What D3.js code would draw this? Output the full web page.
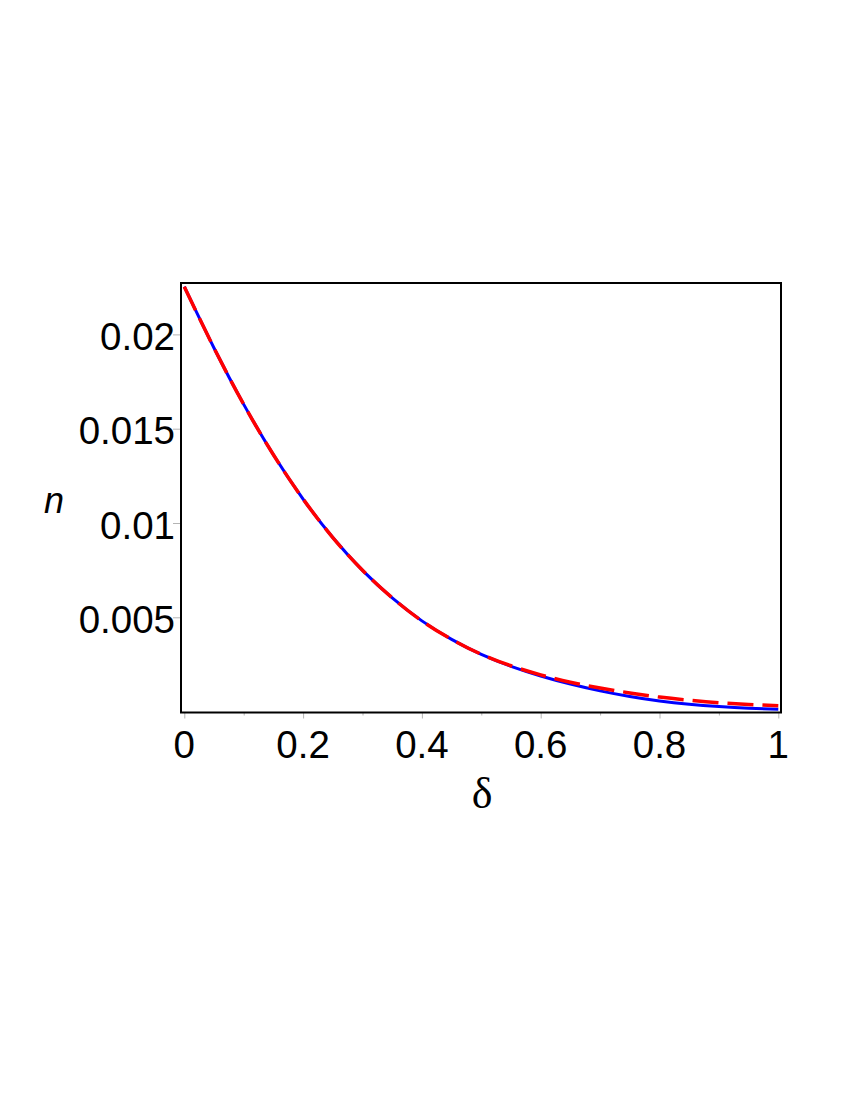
<!DOCTYPE html>
<meta charset='utf-8'>
<script src='https://d3js.org/d3.v7.min.js'></script>
<style>
  body { margin: 0; background: #fff; }
</style>
<body>
<script>
// values
var delta = [0, 0.05, 0.1, 0.15, 0.2, 0.25, 0.3, 0.35, 0.4, 0.45, 0.5,
             0.55, 0.6, 0.65, 0.7, 0.75, 0.8, 0.85, 0.9, 0.95, 1];
var nSolid = [0.02253, 0.01928, 0.01629, 0.01362, 0.01127, 0.00923, 0.00749, 0.00603, 0.00481, 0.00383, 0.00303,
              0.00240, 0.00189, 0.00146, 0.00110, 0.00080, 0.00056, 0.00039, 0.00027, 0.00018, 0.00012];
var nDashed = [0.02253, 0.01928, 0.01629, 0.01362, 0.01127, 0.00923, 0.00749, 0.00603, 0.00481, 0.00383, 0.00304,
               0.00243, 0.00195, 0.00156, 0.00125, 0.00099, 0.00077, 0.00060, 0.00047, 0.00038, 0.00031];
var xTicks = [0, 0.2, 0.4, 0.6, 0.8, 1];
var xMinor = [0.1, 0.3, 0.5, 0.7, 0.9];
var yTicks = [0.005, 0.01, 0.015, 0.02];
var yTickLabels = ['0.005', '0.01', '0.015', '0.02'];

var width = 850,
    height = 1100;
var sans = "'Liberation Sans', Arial, sans-serif";

var svg = d3.select('body').append('svg').attr('width', width).attr('height', height);

var frame = {left: 181, right: 781, top: 283, bottom: 712.5};

var x = d3.scaleLinear().domain([0, 1]).range([184.3, 778.3]);
var y = d3.scaleLinear().domain([0, 0.02]).range([711.6, 334.4]);

// ticks (grey, outside the frame)
var gx = svg.append('g').attr('transform', 'translate(0,' + frame.bottom + ')');
gx.call(d3.axisBottom(x).tickValues(xTicks).tickSize(6).tickFormat(''));
gx.append('g').call(d3.axisBottom(x).tickValues(xMinor).tickSize(3).tickFormat(''));
gx.selectAll('path.domain').remove();
gx.selectAll('line').attr('stroke', '#b4b4b4');

var gy = svg.append('g').attr('transform', 'translate(' + frame.left + ',0)');
gy.call(d3.axisLeft(y).tickValues(yTicks).tickSize(8).tickFormat(''));
gy.selectAll('path.domain').remove();
gy.selectAll('line').attr('stroke', '#b4b4b4');

// tick labels
svg.append('g').selectAll('text').data(xTicks).enter().append('text')
    .attr('x', function(d) { return x(d); })
    .attr('y', 758)
    .attr('text-anchor', 'middle')
    .style('font-family', sans).style('font-size', '38.5px')
    .text(function(d) { return d3.format('~g')(d); });

svg.append('g').selectAll('text').data(yTicks).enter().append('text')
    .attr('x', 175)
    .attr('y', function(d) { return y(d) + 15.5; })
    .attr('text-anchor', 'end')
    .style('font-family', sans).style('font-size', '38.5px')
    .text(function(d, i) { return yTickLabels[i]; });

// axis titles
svg.append('text').attr('x', 482).attr('y', 808).attr('text-anchor', 'middle')
    .style('font-family', "'Liberation Serif', 'Times New Roman', serif").style('font-size', '44px')
    .text('δ');
svg.append('text').attr('x', 44).attr('y', 513)
    .style('font-family', sans).style('font-style', 'italic').style('font-size', '36px')
    .text('n');

// curves
var line = d3.line()
    .x(function(d) { return x(d[0]); })
    .y(function(d) { return y(d[1]); })
    .curve(d3.curveNatural);

svg.append('path')
    .datum(delta.map(function(d, i) { return [d, nSolid[i]]; }))
    .attr('fill', 'none').attr('stroke', '#0000ff').attr('stroke-width', 3)
    .attr('d', line);

svg.append('path')
    .datum(delta.map(function(d, i) { return [d, nDashed[i]]; }))
    .attr('fill', 'none').attr('stroke', '#ff0000').attr('stroke-width', 3.5)
    .attr('stroke-dasharray', '26,9')
    .attr('d', line);

// frame
svg.append('rect')
    .attr('x', frame.left).attr('y', frame.top)
    .attr('width', frame.right - frame.left).attr('height', frame.bottom - frame.top)
    .attr('fill', 'none').attr('stroke', '#000').attr('stroke-width', 2);
</script>
